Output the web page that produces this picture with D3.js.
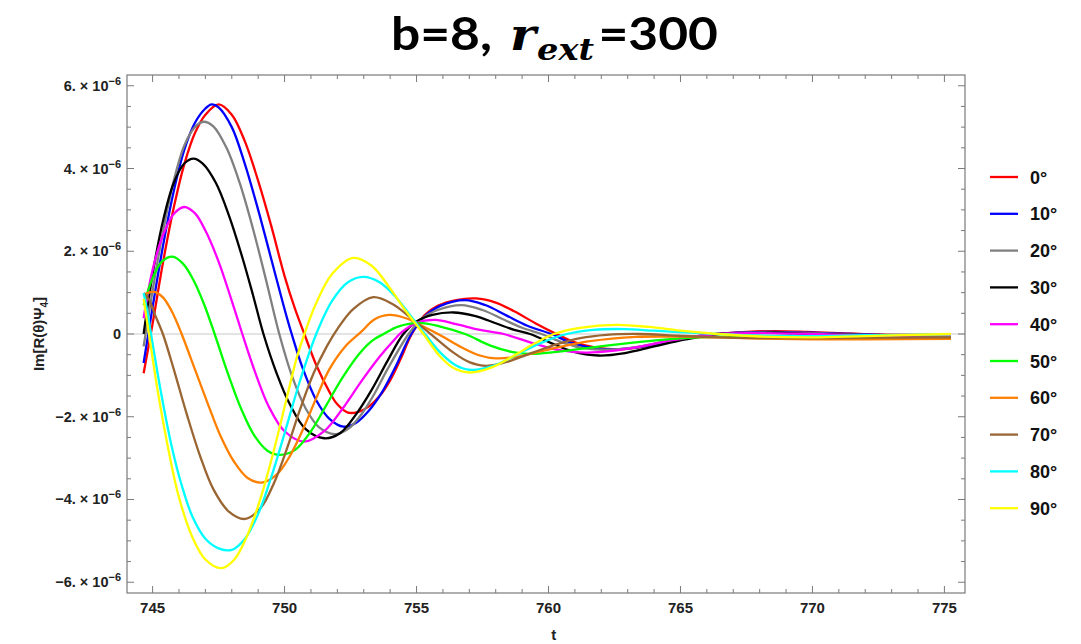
<!DOCTYPE html>
<html>
<head>
<meta charset="utf-8">
<script src="https://d3js.org/d3.v7.min.js"></script>
<style>
  body { margin: 0; background: #fff; }
  svg { display: block; }
</style>
</head>
<body>
<svg id="chart" width="1081" height="644"></svg>
<script>
// values are in units of 1e-6
const angleLabels = ["0°", "10°", "20°", "30°", "40°", "50°", "60°", "70°", "80°", "90°"];
const lineColors = ["#ff0000", "#0000ff", "#808080", "#000000", "#ff00ff", "#00ff00", "#ff8000", "#996633", "#00ffff", "#ffff00"];

const deg0 = [[744.66,-0.95],[745.0,0.25],[745.4,1.75],[745.8,3.05],[746.2,4.1],[746.6,4.85],[747.0,5.3],[747.5,5.55],[748.0,5.3],[748.5,4.65],[749.0,3.7],[749.5,2.6],[750.0,1.4],[750.4,0.6],[750.75,0],[751.2,-0.75],[751.7,-1.4],[752.0,-1.7],[752.4,-1.9],[752.8,-1.88],[753.2,-1.75],[753.6,-1.5],[754.0,-1.12],[754.4,-0.6],[754.82,0],[755.3,0.45],[755.8,0.68],[756.5,0.82],[757.25,0.86],[758.0,0.76],[758.7,0.55],[759.5,0.26],[760.3,0],[761.0,-0.2],[761.8,-0.33],[762.8,-0.37],[763.8,-0.28],[765.0,-0.12],[766.4,0],[767.5,0.05],[768.6,0.07],[769.8,0.05],[771.0,0.02],[772.5,-0.01],[774.0,-0.02],[775.25,-0.02]];
const deg10 = [[744.66,-0.7],[745.0,0.65],[745.4,2.15],[745.8,3.45],[746.2,4.45],[746.6,5.1],[747.0,5.45],[747.24,5.55],[747.5,5.48],[748.0,5.0],[748.5,4.1],[749.0,3.0],[749.5,1.8],[750.0,0.6],[750.27,0],[750.7,-0.85],[751.2,-1.6],[751.7,-2.05],[752.23,-2.24],[752.7,-2.15],[753.2,-1.85],[753.7,-1.4],[754.2,-0.8],[754.8,0],[755.3,0.42],[755.9,0.68],[756.84,0.82],[757.6,0.7],[758.4,0.45],[759.2,0.2],[760.1,0],[760.9,-0.22],[761.7,-0.34],[762.6,-0.37],[763.6,-0.3],[764.8,-0.14],[766.4,0],[767.5,0.04],[768.5,0.05],[770.0,0.03],[771.5,0],[773.0,-0.03],[775.25,-0.04]];
const deg20 = [[744.66,-0.3],[745.0,1.05],[745.4,2.5],[745.8,3.7],[746.2,4.55],[746.6,5.0],[746.93,5.13],[747.3,5.02],[747.8,4.5],[748.3,3.65],[748.8,2.55],[749.3,1.3],[749.8,0],[750.3,-1.05],[750.8,-1.8],[751.3,-2.25],[751.9,-2.42],[752.4,-2.3],[752.9,-1.95],[753.4,-1.45],[753.9,-0.85],[754.7,0],[755.2,0.37],[755.8,0.58],[756.7,0.7],[757.5,0.58],[758.3,0.35],[759.0,0.15],[759.74,0],[760.6,-0.22],[761.4,-0.35],[762.3,-0.38],[763.3,-0.32],[764.5,-0.17],[766.4,0],[767.5,0.03],[768.5,0.04],[770.0,0.02],[772.0,-0.02],[775.25,-0.04]];
const deg30 = [[744.66,0],[745.0,1.45],[745.4,2.75],[745.8,3.65],[746.2,4.12],[746.55,4.24],[746.9,4.12],[747.4,3.65],[747.9,2.85],[748.4,1.85],[748.8,0.95],[749.2,0],[749.7,-0.95],[750.2,-1.7],[750.8,-2.3],[751.5,-2.52],[752.1,-2.4],[752.7,-1.95],[753.3,-1.35],[753.9,-0.65],[754.5,0],[755.0,0.3],[755.6,0.46],[756.4,0.52],[757.2,0.44],[758.0,0.26],[758.7,0.1],[759.3,0],[760.1,-0.22],[760.9,-0.42],[761.9,-0.52],[762.9,-0.46],[764.0,-0.3],[765.2,-0.13],[766.4,0],[767.5,0.02],[768.6,0.03],[770.0,0],[772.0,-0.03],[775.25,-0.05]];
const deg40 = [[744.66,0.38],[745.0,1.55],[745.4,2.4],[745.8,2.9],[746.2,3.07],[746.6,2.92],[747.0,2.5],[747.5,1.75],[748.0,0.8],[748.4,0],[748.9,-0.95],[749.4,-1.75],[750.0,-2.35],[750.75,-2.6],[751.5,-2.35],[752.2,-1.8],[752.9,-1.15],[753.6,-0.55],[754.1,-0.18],[754.45,0.05],[755.0,0.27],[755.7,0.34],[756.5,0.24],[757.4,0.1],[758.3,0],[759.3,-0.2],[760.3,-0.38],[761.4,-0.45],[762.4,-0.41],[763.5,-0.3],[764.7,-0.15],[766.4,0],[768.0,0.02],[770.0,0],[772.0,-0.04],[775.25,-0.05]];
const deg50 = [[744.66,0.7],[745.0,1.35],[745.35,1.75],[745.75,1.87],[746.15,1.7],[746.55,1.3],[746.95,0.72],[747.35,0],[747.85,-0.95],[748.35,-1.8],[748.85,-2.45],[749.35,-2.82],[749.83,-2.92],[750.4,-2.8],[751.0,-2.35],[751.6,-1.7],[752.2,-1.05],[752.8,-0.5],[753.3,-0.17],[753.75,0],[754.3,0.18],[755.1,0.27],[755.9,0.18],[756.84,0],[757.8,-0.28],[758.6,-0.43],[759.3,-0.48],[760.2,-0.44],[761.2,-0.36],[762.2,-0.28],[763.2,-0.21],[764.5,-0.13],[766.4,-0.07],[768.0,-0.08],[770.0,-0.1],[772.0,-0.1],[775.25,-0.09]];
const deg60 = [[744.66,0.95],[744.85,1.0],[745.07,1.02],[745.4,0.88],[745.75,0.52],[746.1,0],[746.6,-0.85],[747.1,-1.7],[747.6,-2.5],[748.1,-3.1],[748.6,-3.48],[749.14,-3.59],[749.7,-3.4],[750.2,-2.95],[750.7,-2.3],[751.2,-1.55],[751.7,-0.85],[752.3,-0.3],[752.9,0.05],[753.4,0.35],[753.95,0.46],[754.6,0.38],[755.2,0.2],[755.9,-0.03],[756.7,-0.32],[757.4,-0.52],[758.0,-0.59],[758.8,-0.55],[759.7,-0.42],[760.6,-0.29],[761.5,-0.18],[762.4,-0.11],[763.3,-0.07],[764.2,-0.06],[765.3,-0.07],[766.4,-0.08],[768.0,-0.11],[770.0,-0.13],[772.0,-0.13],[775.25,-0.12]];
const deg70 = [[744.66,0.99],[744.85,0.85],[745.1,0.45],[745.39,0],[745.8,-0.85],[746.3,-1.95],[746.8,-2.95],[747.3,-3.75],[747.9,-4.3],[748.5,-4.47],[749.1,-4.2],[749.6,-3.6],[750.1,-2.75],[750.6,-1.8],[751.1,-0.95],[751.6,-0.3],[752.0,0.12],[752.6,0.6],[753.36,0.89],[754.1,0.72],[754.8,0.38],[755.57,-0.02],[756.4,-0.45],[757.0,-0.68],[757.66,-0.77],[758.5,-0.66],[759.4,-0.45],[760.3,-0.25],[761.2,-0.1],[762.2,-0.02],[763.5,0],[764.8,-0.04],[766.4,-0.08],[768.0,-0.1],[770.0,-0.1],[772.0,-0.09],[775.25,-0.08]];
const deg80 = [[744.66,0.99],[744.8,0.55],[744.94,0],[745.3,-1.35],[745.7,-2.65],[746.1,-3.65],[746.5,-4.4],[747.0,-4.95],[747.5,-5.18],[748.0,-5.22],[748.5,-4.95],[749.0,-4.35],[749.5,-3.45],[750.0,-2.4],[750.6,-1.1],[751.2,0],[751.8,0.8],[752.4,1.25],[752.98,1.38],[753.6,1.25],[754.2,0.9],[754.8,0.42],[755.32,0],[755.9,-0.45],[756.5,-0.76],[757.1,-0.87],[757.9,-0.77],[758.8,-0.5],[759.7,-0.22],[760.7,0],[761.7,0.1],[762.84,0.12],[764.0,0.08],[765.2,0.04],[766.4,0],[768.0,-0.04],[770.0,-0.05],[772.0,-0.03],[775.25,-0.01]];
const deg90 = [[744.66,0.85],[744.86,0],[745.2,-1.4],[745.6,-2.8],[746.0,-3.95],[746.5,-4.9],[747.0,-5.45],[747.6,-5.66],[748.1,-5.45],[748.6,-4.85],[749.1,-3.95],[749.6,-2.8],[750.1,-1.5],[750.45,-0.6],[750.75,0],[751.2,0.75],[751.8,1.45],[752.6,1.84],[753.3,1.65],[754.0,1.1],[754.6,0.55],[755.26,0],[755.9,-0.55],[756.4,-0.82],[757.03,-0.93],[757.8,-0.82],[758.7,-0.52],[759.5,-0.22],[760.2,0],[761.2,0.15],[762.58,0.22],[763.8,0.17],[765.0,0.08],[766.4,0],[768.0,-0.06],[770.0,-0.08],[772.0,-0.05],[775.25,0]];

const seriesList = [deg0, deg10, deg20, deg30, deg40, deg50, deg60, deg70, deg80, deg90];

const xTicks = [745, 750, 755, 760, 765, 770, 775];
const xMinor = d3.range(745, 776, 1);
const yTicks = [-6, -4, -2, 0, 2, 4, 6];
const yMinor = d3.range(-6, 6.01, 0.5);

const frame = { left: 127, right: 965, top: 75, bottom: 593 };

const svg = d3.select('#chart');

const x = d3.scaleLinear().domain([744.03, 775.78]).range([frame.left, frame.right]);
const y = d3.scaleLinear().domain([-6.26, 6.26]).range([frame.bottom, frame.top]);

svg.append('defs').append('clipPath').attr('id', 'plotclip')
  .append('rect')
  .attr('x', frame.left).attr('y', frame.top)
  .attr('width', frame.right - frame.left).attr('height', frame.bottom - frame.top);

// zero axis line
svg.append('line')
  .attr('x1', frame.left).attr('x2', frame.right)
  .attr('y1', y(0)).attr('y2', y(0))
  .style('stroke', '#c8c8c8').style('stroke-width', 1);

// curves
const line = d3.line()
  .x(d => x(d[0]))
  .y(d => y(d[1]))
  .curve(d3.curveCatmullRom.alpha(0.5));

const plot = svg.append('g').attr('clip-path', 'url(#plotclip)');
seriesList.forEach((s, i) => {
  plot.append('path')
    .datum(s)
    .attr('d', line)
    .style('fill', 'none')
    .style('stroke', lineColors[i])
    .style('stroke-width', 2.3)
    .style('stroke-linejoin', 'round');
});

// frame and ticks
const frameColor = '#7a7a7a';
svg.append('rect')
  .attr('x', frame.left).attr('y', frame.top)
  .attr('width', frame.right - frame.left).attr('height', frame.bottom - frame.top)
  .style('fill', 'none').style('stroke', frameColor).style('stroke-width', 1.2);

const ticks = svg.append('g').style('stroke', frameColor).style('stroke-width', 1);
xMinor.forEach(v => {
  const len = xTicks.includes(v) ? 7 : 4;
  ticks.append('line').attr('x1', x(v)).attr('x2', x(v)).attr('y1', frame.bottom).attr('y2', frame.bottom - len);
  ticks.append('line').attr('x1', x(v)).attr('x2', x(v)).attr('y1', frame.top).attr('y2', frame.top + len);
});
yMinor.forEach(v => {
  const len = yTicks.includes(v) ? 7 : 4;
  ticks.append('line').attr('y1', y(v)).attr('y2', y(v)).attr('x1', frame.left).attr('x2', frame.left + len);
  ticks.append('line').attr('y1', y(v)).attr('y2', y(v)).attr('x1', frame.right).attr('x2', frame.right - len);
});

// x tick labels
svg.append('g').selectAll('text')
  .data(xTicks)
  .enter().append('text')
  .attr('x', d => x(d))
  .attr('y', frame.bottom + 20)
  .attr('text-anchor', 'middle')
  .style('font-family', '"Liberation Sans Narrow", "Liberation Sans", Arial, sans-serif')
  .style('font-weight', 'bold')
  .style('font-size', '15px')
  .style('fill', '#222')
  .text(d => d);

// y tick labels
const yLab = svg.append('g');
yTicks.forEach(v => {
  const t = yLab.append('text')
    .attr('x', frame.left - 6)
    .attr('y', y(v) + 5)
    .attr('text-anchor', 'end')
    .style('font-family', '"Liberation Sans", Arial, sans-serif')
    .style('font-weight', 'bold')
    .style('font-size', '14.5px')
    .style('fill', '#222');
  if (v === 0) {
    t.text('0');
  } else {
    t.append('tspan').text((v < 0 ? '\u2212' : '') + Math.abs(v) + '. \u00d7 10');
    t.append('tspan').attr('dy', -6).style('font-size', '11px').text('\u22126');
  }
});

// axis titles
svg.append('text')
  .attr('x', x(760.2))
  .attr('y', 640)
  .attr('text-anchor', 'middle')
  .style('font-family', '"Liberation Sans Narrow", "Liberation Sans", Arial, sans-serif')
  .style('font-weight', 'bold')
  .style('font-size', '15px')
  .style('fill', '#222')
  .text('t');

const yTitle = svg.append('text')
  .attr('transform', `translate(44,${y(0)}) rotate(-90)`)
  .attr('text-anchor', 'middle')
  .style('font-family', '"Liberation Sans", Arial, sans-serif')
  .style('font-weight', 'bold')
  .style('font-size', '15px')
  .style('fill', '#222');
yTitle.append('tspan').text('Im[R(\u03b8)\u03a8');
yTitle.append('tspan').attr('dy', 4).style('font-size', '10px').text('4');
yTitle.append('tspan').attr('dy', -4).text(']');

// legend
const legend = svg.append('g');
angleLabels.forEach((lab, i) => {
  const ly = 177 + i * 36.8;
  legend.append('line')
    .attr('x1', 990).attr('x2', 1018).attr('y1', ly).attr('y2', ly)
    .style('stroke', lineColors[i]).style('stroke-width', 2.3);
  legend.append('text')
    .attr('x', 1030).attr('y', ly + 6.5)
    .style('font-family', '"Liberation Sans", Arial, sans-serif')
    .style('font-weight', 'bold')
    .style('font-size', '18px')
    .style('fill', '#111')
    .text(lab);
});

// title: b=8, r_ext=300
const title = svg.append('g');
const parts = [
  { s: 'b=8,', font: 'Lato, "Open Sans", sans-serif', size: 46, weight: 'bold', style: 'normal', dy: 0, gap: 16 },
  { s: 'r', font: '"DejaVu Serif", "Liberation Serif", serif', size: 44, weight: 'bold', style: 'italic', dy: 0, gap: 1 },
  { s: 'ext', font: '"DejaVu Serif", "Liberation Serif", serif', size: 30, weight: 'bold', style: 'italic', dy: 10, gap: 4 },
  { s: '=300', font: 'Lato, "Open Sans", sans-serif', size: 46, weight: 'bold', style: 'normal', dy: 0, gap: 0 }
];
let cx = 0;
parts.forEach(p => {
  const t = title.append('text')
    .attr('x', cx).attr('y', 50 + p.dy)
    .style('font-family', p.font)
    .style('font-size', p.size + 'px')
    .style('font-weight', p.weight)
    .style('font-style', p.style)
    .style('fill', '#000')
    .text(p.s);
  cx += t.node().getComputedTextLength() + p.gap;
});
const titleScale = 327 / cx;
title.attr('transform', `translate(391,0) scale(${titleScale},1)`);
</script>
</body>
</html>
